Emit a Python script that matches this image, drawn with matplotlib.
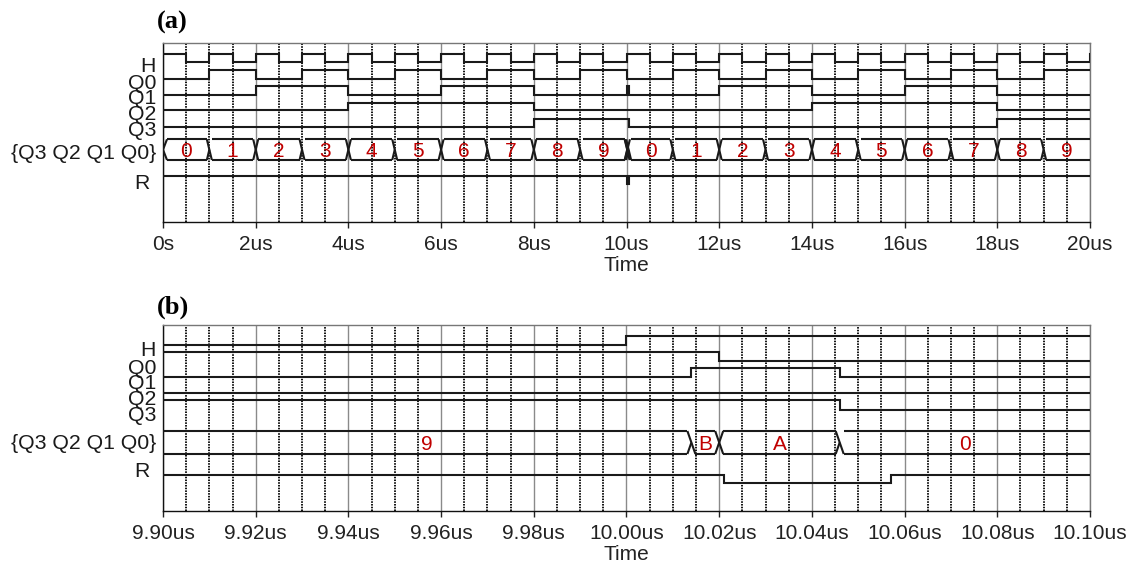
import matplotlib
matplotlib.use("Agg")
import matplotlib.pyplot as plt
from matplotlib.transforms import blended_transform_factory

# ---------------- waveform data (times in us) ----------------
# clock H: level changes
h_times = [0.0, 0.5, 1.0, 1.5, 2.0, 2.5, 3.0, 3.5, 4.0, 4.5,
           5.0, 5.5, 6.0, 6.5, 7.0, 7.5, 8.0, 8.5, 9.0, 9.5,
           10.0, 10.5, 11.0, 11.5, 12.0, 12.5, 13.0, 13.5, 14.0, 14.5,
           15.0, 15.5, 16.0, 16.5, 17.0, 17.5, 18.0, 18.5, 19.0, 19.5, 20.0]
h_levels = [1, 0, 1, 0, 1, 0, 1, 0, 1, 0,
            1, 0, 1, 0, 1, 0, 1, 0, 1, 0,
            1, 0, 1, 0, 1, 0, 1, 0, 1, 0,
            1, 0, 1, 0, 1, 0, 1, 0, 1, 0, 1]

# counter state {Q3 Q2 Q1 Q0}: change times and new values
count_times = [0.0, 1.0, 2.0, 3.0, 4.0, 5.0, 6.0, 7.0, 8.0, 9.0,
               10.014, 10.020, 10.046,
               11.0, 12.0, 13.0, 14.0, 15.0, 16.0, 17.0, 18.0, 19.0]
count_values = [0, 1, 2, 3, 4, 5, 6, 7, 8, 9,
                11, 10, 0,
                1, 2, 3, 4, 5, 6, 7, 8, 9]

# reset line R (active low pulse)
r_times = [0.0, 10.021, 10.057]
r_levels = [1, 0, 1]

signal_names = ["H", "Q0", "Q1", "Q2", "Q3", "{Q3 Q2 Q1 Q0}", "R"]

# axis ranges / ticks for the two views
a_range = (0.0, 20.0)
a_ticks = [0, 2, 4, 6, 8, 10, 12, 14, 16, 18, 20]
a_ticklabels = ["0s", "2us", "4us", "6us", "8us", "10us", "12us",
                "14us", "16us", "18us", "20us"]
a_minor_step = 0.5

b_range = (9.90, 10.10)
b_ticks = [9.90, 9.92, 9.94, 9.96, 9.98, 10.00, 10.02, 10.04, 10.06, 10.08, 10.10]
b_ticklabels = ["9.90us", "9.92us", "9.94us", "9.96us", "9.98us", "10.00us",
                "10.02us", "10.04us", "10.06us", "10.08us", "10.10us"]
b_minor_step = 0.005

# ---------------- styling ----------------
FIG_W, FIG_H = 1135, 565
SANS = ["Liberation Sans", "DejaVu Sans"]
SERIF = ["Liberation Serif", "DejaVu Serif"]
WAVE = "#1a1a1a"
VAL_RED = "#c00000"
LW = 1.5

plt.rcParams["font.family"] = SANS

fig = plt.figure(figsize=(FIG_W / 100, FIG_H / 100), dpi=100)

AX_LEFT, AX_RIGHT = 163, 1090


def make_axes(top_px, bottom_px):
    return fig.add_axes([AX_LEFT / FIG_W, 1 - bottom_px / FIG_H,
                         (AX_RIGHT - AX_LEFT) / FIG_W,
                         (bottom_px - top_px) / FIG_H])


def step_wave(ax, times, levels, hi, lo, x_end):
    xs, ys = [], []
    for i, (t, lv) in enumerate(zip(times, levels)):
        y = hi if lv else lo
        t_next = times[i + 1] if i + 1 < len(times) else x_end
        if xs:
            xs.append(t)
            ys.append(y)
        xs.append(t)
        ys.append(y)
        xs.append(t_next)
        ys.append(y)
    ax.plot(xs, ys, color=WAVE, lw=LW, solid_joinstyle="miter",
            solid_capstyle="butt", zorder=3)


def bus_wave(ax, times, values, top, bot, x_end, w, px_per_unit, x0, x1):
    mid = (top + bot) / 2
    h = w / 2
    kw = dict(color=WAVE, lw=LW, zorder=3, solid_capstyle="butt")
    n = len(times)
    for i in range(n):
        s = times[i]
        e = times[i + 1] if i + 1 < n else x_end
        start = s + h
        end = e - h if i + 1 < n else x_end
        if i == 0:
            # opening bracket where the data begins
            ax.plot([s + w * 0.8, s, s + w * 0.8], [top, mid, bot], **kw)
            start = s + w * 0.8
        if end > start:
            ax.plot([start, end], [top, top], **kw)
            ax.plot([start, end], [bot, bot], **kw)
        # value label, centred on the visible part of the segment
        vs, ve = max(s, x0), min(e, x1)
        if (ve - vs) * px_per_unit > 14:
            ax.text((vs + ve) / 2, mid + 7.0, format(values[i], "X"),
                    color=VAL_RED, fontsize=15, ha="center", va="baseline",
                    zorder=4)
    for i in range(1, n):
        t = times[i]
        prev, new = values[i - 1], values[i]
        ax.plot([t - h, t + h], [top, bot], **kw)
        if (prev & 1) and not (new & 1):
            # Q0 dropping: full crossing
            ax.plot([t - h, t + h], [bot, top], **kw)
        else:
            # half crossing
            ax.plot([t - h, t], [bot, mid], **kw)


def panel(top_px, bottom_px, xr, ticks, ticklabels, minor_step, rows, labels_y,
          w_px, letter, letter_y):
    ax = make_axes(top_px, bottom_px)
    height = bottom_px - top_px
    x0, x1 = xr
    px_per_unit = (AX_RIGHT - AX_LEFT) / (x1 - x0)
    ax.set_xlim(x0, x1)
    ax.set_ylim(height, 0)

    # waveforms
    step_wave(ax, h_times, h_levels, *rows["H"], x_end=x1 + 1)
    for k in range(4):
        bits = [(v >> k) & 1 for v in count_values]
        step_wave(ax, count_times, bits, *rows["Q%d" % k], x_end=x1 + 1)
    bus_wave(ax, count_times, count_values, *rows["BUS"], x_end=x1 + 1,
             w=w_px / px_per_unit, px_per_unit=px_per_unit, x0=x0, x1=x1)
    step_wave(ax, r_times, r_levels, *rows["R"], x_end=x1 + 1)

    # signal names
    tr = blended_transform_factory(ax.transAxes, ax.transData)
    for name, y in zip(signal_names, labels_y):
        xoff = -13 if name == "R" else -7
        ax.text(xoff / (AX_RIGHT - AX_LEFT), y + 7.5, name, transform=tr,
                ha="right", va="baseline", fontsize=15.3, color="#1a1a1a")

    # grid
    ax.set_xticks(ticks)
    ax.set_xticklabels(ticklabels)
    nminor = int(round((x1 - x0) / minor_step))
    ax.set_xticks([x0 + i * minor_step for i in range(nminor + 1)], minor=True)
    ax.grid(which="major", axis="x", color="#8a8a8a", lw=1.0, ls="-")
    ax.grid(which="minor", axis="x", color="#111111", lw=1.4, ls=(0, (0.8, 0.6)))
    ax.set_axisbelow(True)
    ax.set_yticks([])
    ax.tick_params(axis="x", which="major", length=4, width=1, pad=6,
                   labelsize=15, colors="#222222")
    ax.tick_params(axis="x", which="minor", length=0)
    ax.set_xlabel("Time", fontsize=15, labelpad=1, color="#222222")
    for side in ("left", "bottom"):
        ax.spines[side].set_color("#111111")
        ax.spines[side].set_linewidth(1.0)
    for side in ("top", "right"):
        ax.spines[side].set_color("#777777")
        ax.spines[side].set_linewidth(1.0)

    fig.text(157 / FIG_W, 1 - letter_y / FIG_H, letter, family=SERIF,
             fontweight="bold", fontsize=19, ha="left", va="center")
    return ax


rows_a = {"H": (10.7, 19.0), "Q0": (27.0, 35.7), "Q1": (43.0, 51.7),
          "Q2": (59.4, 67.0), "Q3": (76.0, 83.7), "BUS": (96.0, 116.7),
          "R": (132.4, 140.4)}
rows_b = {"H": (10.3, 19.7), "Q0": (27.0, 36.0), "Q1": (43.0, 52.0),
          "Q2": (59.0, 68.0), "Q3": (74.7, 84.3), "BUS": (105.7, 128.7),
          "R": (149.5, 157.5)}

panel(43.3, 221.5, a_range, a_ticks, a_ticklabels, a_minor_step, rows_a,
      [21.5, 38, 53, 69, 85, 108, 138], 5, "(a)", 22)
panel(325.3, 510.5, b_range, b_ticks, b_ticklabels, b_minor_step, rows_b,
      [23, 41, 56, 72, 88, 116, 144], 8, "(b)", 307)

fig.savefig("out.png", dpi=100)
